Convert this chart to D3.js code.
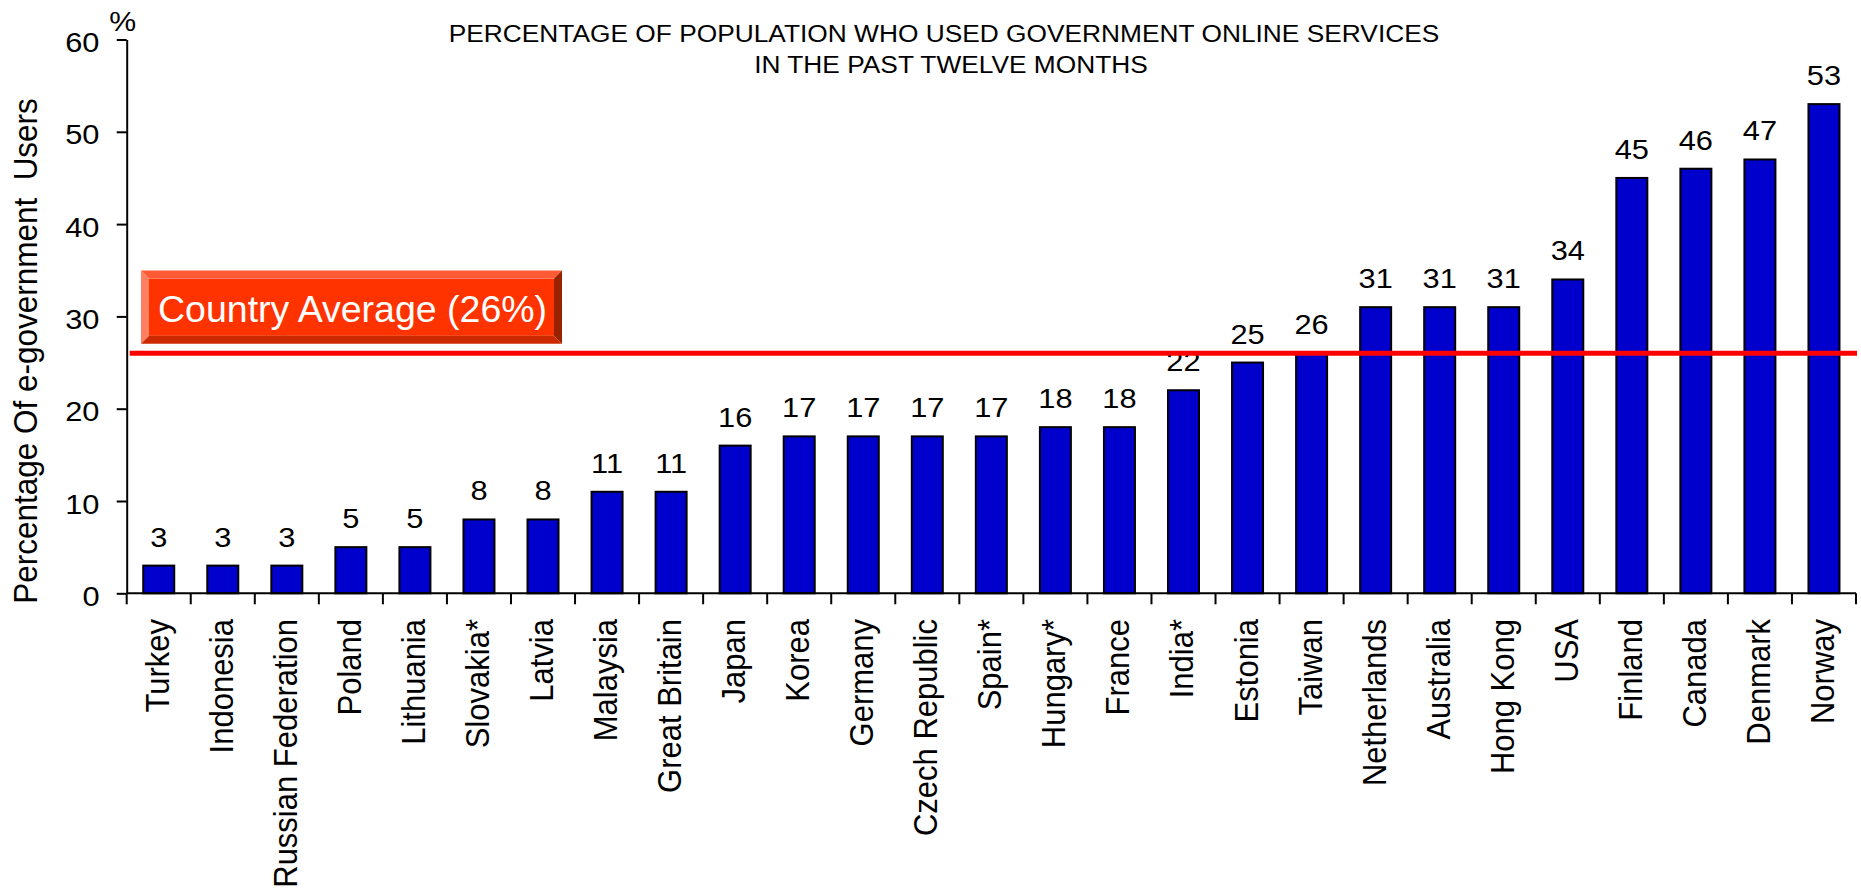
<!DOCTYPE html>
<html>
<head>
<meta charset="utf-8">
<title>E-government users by country</title>
<script src="https://cdn.jsdelivr.net/npm/d3@7"></script>
<style>
  html, body { margin: 0; padding: 0; background: #ffffff; }
  svg { display: block; font-family: "Liberation Sans", Arial, sans-serif; }
</style>
</head>
<body>
<svg id="chart" width="1861" height="891"></svg>
<script>
// Countries, in display order
const categories = [
  "Turkey", "Indonesia", "Russian Federation", "Poland", "Lithuania", "Slovakia*",
  "Latvia", "Malaysia", "Great Britain", "Japan", "Korea", "Germany",
  "Czech Republic", "Spain*", "Hungary*", "France", "India*", "Estonia",
  "Taiwan", "Netherlands", "Australia", "Hong Kong", "USA", "Finland",
  "Canada", "Denmark", "Norway"
];

// Share of population using e-government services (%)
const values = [
  3, 3, 3, 5, 5, 8,
  8, 11, 11, 16, 17, 17,
  17, 17, 18, 18, 22, 25,
  26, 31, 31, 31, 34, 45,
  46, 47, 53
];

const yTicks = [0, 10, 20, 30, 40, 50, 60];
const countryAverage = 26;
const averageLabel = "Country Average (26%)";
const titleLines = [
  "PERCENTAGE OF POPULATION WHO USED GOVERNMENT ONLINE SERVICES",
  "IN THE PAST TWELVE MONTHS"
];
const yAxisTitle = "Percentage Of e-government  Users";
const yUnit = "%";

// Layout
const plotLeft = 126.7, plotRight = 1856;
const plotTop = 39.5, plotBottom = 593.3;
const stretch = 1.08;   // horizontal widening used for chart text

const svg = d3.select("#chart");

const x = d3.scaleBand()
  .domain(categories)
  .range([plotLeft, plotRight])
  .paddingInner(0.516)
  .paddingOuter(0.258);

const y = d3.scaleLinear()
  .domain([0, 60])
  .range([plotBottom, plotTop]);

const step = x.step();
const centerOf = c => x(c) + x.bandwidth() / 2;

// Title
svg.append("g").selectAll("text")
  .data(titleLines)
  .join("text")
  .attr("text-anchor", "middle")
  .attr("font-size", 23.5)
  .attr("fill", "#000")
  .attr("transform", (d, i) => `translate(${i === 0 ? 944 : 951}, ${i === 0 ? 41.7 : 73.3}) scale(1.12,1)`)
  .text(d => d);

// Bars
svg.append("g").selectAll("rect")
  .data(values)
  .join("rect")
  .attr("x", (d, i) => x(categories[i]))
  .attr("y", d => y(d))
  .attr("width", x.bandwidth())
  .attr("height", d => y(0) - y(d))
  .attr("fill", "#0000cc")
  .attr("stroke", "#000")
  .attr("stroke-width", 2);

// Value labels above bars
svg.append("g").selectAll("text")
  .data(values)
  .join("text")
  .attr("text-anchor", "middle")
  .attr("font-size", 28.5)
  .attr("fill", "#000")
  .attr("transform", (d, i) => `translate(${centerOf(categories[i])}, ${y(d) - 19}) scale(${stretch},1)`)
  .text(d => d);

// Y axis
const yAxis = svg.append("g")
  .attr("transform", `translate(${plotLeft},0)`)
  .call(d3.axisLeft(y).tickValues(yTicks).tickSize(10).tickSizeOuter(0).tickFormat(d3.format("d")));
yAxis.select(".domain").attr("stroke", "#000").attr("stroke-width", 2);
yAxis.selectAll(".tick line").attr("stroke", "#000").attr("stroke-width", 2);
yAxis.selectAll(".tick text")
  .attr("x", null).attr("dy", null)
  .attr("font-size", 28.5)
  .attr("font-family", "Liberation Sans, Arial, sans-serif")
  .attr("fill", "#000")
  .attr("text-anchor", "end")
  .attr("transform", `translate(-27.2, 12) scale(${stretch},1)`);

// Unit marker above the y axis
svg.append("text")
  .attr("text-anchor", "middle")
  .attr("font-size", 28)
  .attr("fill", "#000")
  .attr("transform", `translate(${plotLeft - 4}, 31) scale(${stretch},1)`)
  .text(yUnit);

// Y axis title
svg.append("text")
  .attr("text-anchor", "middle")
  .attr("font-size", 31.5)
  .attr("fill", "#000")
  .style("white-space", "pre")
  .attr("transform", `translate(37, 351) scale(1.06,1) rotate(-90)`)
  .text(yAxisTitle);

// X axis: baseline and tick marks at category boundaries
const xAxis = svg.append("g");
xAxis.append("line")
  .attr("x1", plotLeft).attr("x2", plotRight)
  .attr("y1", y(0)).attr("y2", y(0))
  .attr("stroke", "#000").attr("stroke-width", 2);
xAxis.selectAll("line.tick")
  .data(d3.range(categories.length + 1))
  .join("line")
  .attr("class", "tick")
  .attr("x1", i => plotLeft + i * step)
  .attr("x2", i => plotLeft + i * step)
  .attr("y1", y(0))
  .attr("y2", y(0) + 11)
  .attr("stroke", "#000").attr("stroke-width", 2);

// Category labels, rotated
xAxis.selectAll("text")
  .data(categories)
  .join("text")
  .attr("text-anchor", "end")
  .attr("font-size", 31)
  .attr("fill", "#000")
  .attr("transform", c => `translate(${centerOf(c) + 10}, 619) scale(1.1,1) rotate(-90)`)
  .text(c => c);

// Country average reference line
svg.append("line")
  .attr("x1", plotLeft + 3)
  .attr("x2", plotRight + 1)
  .attr("y1", y(countryAverage))
  .attr("y2", y(countryAverage))
  .attr("stroke", "#ff0000")
  .attr("stroke-width", 5);

// Bevelled label box for the average
const bx0 = 141, bx1 = 562;
const by1 = y(countryAverage) - 9.5, by0 = by1 - 73.3;
const bev = 8;
const box = svg.append("g");
const facets = [
  { pts: [[bx0, by0], [bx1, by0], [bx1 - bev, by0 + bev], [bx0 + bev, by0 + bev]], fill: "#ff5a36" },
  { pts: [[bx0, by0], [bx0 + bev, by0 + bev], [bx0 + bev, by1 - bev], [bx0, by1]], fill: "#ff8060" },
  { pts: [[bx1, by0], [bx1, by1], [bx1 - bev, by1 - bev], [bx1 - bev, by0 + bev]], fill: "#992200" },
  { pts: [[bx0, by1], [bx0 + bev, by1 - bev], [bx1 - bev, by1 - bev], [bx1, by1]], fill: "#cc2a00" }
];
box.append("rect")
  .attr("x", bx0 + bev).attr("y", by0 + bev)
  .attr("width", bx1 - bx0 - 2 * bev).attr("height", by1 - by0 - 2 * bev)
  .attr("fill", "#ff3300");
box.selectAll("polygon")
  .data(facets)
  .join("polygon")
  .attr("points", d => d.pts.map(p => p.join(",")).join(" "))
  .attr("fill", d => d.fill);
box.append("text")
  .attr("x", 158)
  .attr("y", by0 + 51)
  .attr("font-size", 37.5)
  .attr("fill", "#ffffff")
  .text(averageLabel);
</script>
</body>
</html>
